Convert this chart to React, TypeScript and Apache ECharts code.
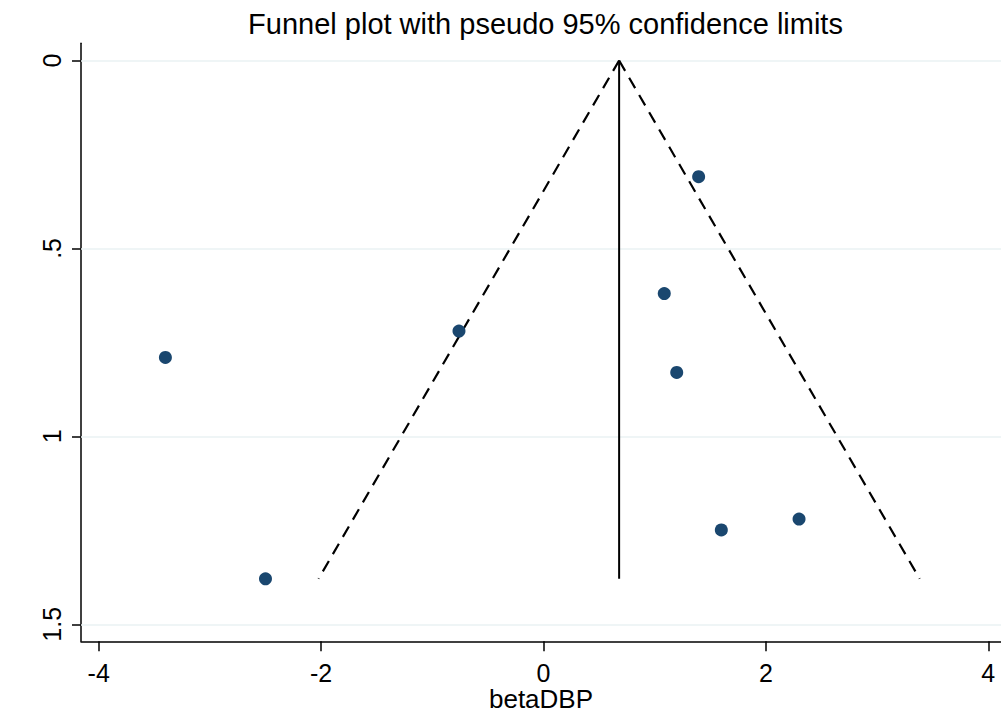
import React, { useEffect, useRef } from "react";
import * as echarts from "echarts";

// ---- Data ----
const effectValues = [-3.4, -2.5, -0.76, 1.086, 1.198, 1.395, 1.599, 2.298];
const seValues = [0.79, 1.379, 0.72, 0.62, 0.83, 0.309, 1.249, 1.22];
const pooledEstimate = 0.68;
const z95 = 1.96;
const xTickValues = [-4, -2, 0, 2, 4];
const yTickValues = [0, 0.5, 1, 1.5];
const yTickLabels = ["0", ".5", "1", "1.5"];
const titleText = "Funnel plot with pseudo 95% confidence limits";
const xAxisTitle = "betaDBP";

const FONT = '"Liberation Sans", Arial, Helvetica, sans-serif';

export default function App() {
  const ref = useRef<HTMLDivElement>(null);

  useEffect(() => {
    if (!ref.current) return;
    const chart = echarts.init(ref.current, undefined, { renderer: "svg" });
    const maxSe = Math.max(...seValues);
    const points = effectValues.map((x, i) => [x, seValues[i]]);

    const option: any = {
      animation: false,
      backgroundColor: "#ffffff",
      textStyle: { fontFamily: FONT },
      graphic: [
        {
          type: "text",
          x: 545.5,
          y: 23.5,
          style: {
            text: titleText,
            fontSize: 29,
            fontFamily: FONT,
            fill: "#000000",
            align: "center",
            verticalAlign: "middle",
          },
        },
      ],
      grid: {
        left: 81,
        right: 0,
        top: 43.3,
        bottom: 75.7,
        containLabel: false,
        outerBoundsMode: "none",
      },
      xAxis: {
        type: "value",
        min: -4.159,
        max: 4.114,
        name: xAxisTitle,
        nameLocation: "middle",
        nameGap: 45,
        nameMoveOverlap: false,
        nameTextStyle: { fontSize: 26, color: "#000", fontFamily: FONT },
        axisLine: { show: true, onZero: false, lineStyle: { color: "#000", width: 1.5 } },
        axisTick: {
          show: true,
          length: 10,
          customValues: xTickValues,
          lineStyle: { color: "#000", width: 1.5 },
        },
        axisLabel: {
          customValues: xTickValues,
          margin: 19,
          fontSize: 25,
          color: "#000",
          fontFamily: FONT,
          formatter: (v: number) => String(v),
        },
        splitLine: { show: false },
      },
      yAxis: {
        type: "value",
        inverse: true,
        min: -0.0458,
        max: 1.5453,
        axisLine: { show: true, onZero: false, lineStyle: { color: "#000", width: 1.5 } },
        axisTick: {
          show: true,
          length: 9,
          customValues: yTickValues,
          lineStyle: { color: "#000", width: 1.5 },
        },
        axisLabel: {
          customValues: yTickValues,
          rotate: 90,
          margin: 17,
          fontSize: 25,
          color: "#000",
          fontFamily: FONT,
          formatter: (v: number) => {
            const i = yTickValues.findIndex((t) => Math.abs(t - v) < 1e-9);
            return i >= 0 ? yTickLabels[i] : "";
          },
        },
        splitLine: { show: false },
      },
      series: [
        {
          name: "grid",
          type: "line",
          data: [],
          z: 1,
          silent: true,
          markLine: {
            silent: true,
            z: 1,
            symbol: "none",
            label: { show: false },
            lineStyle: { color: "#eaf2f3", width: 1.5, type: "solid" },
            data: yTickValues.map((v) => ({ yAxis: v })),
          },
        },
        {
          name: "pooled",
          type: "line",
          z: 3,
          showSymbol: false,
          silent: true,
          data: [
            [pooledEstimate, 0],
            [pooledEstimate, maxSe],
          ],
          lineStyle: { color: "#000", width: 2 },
        },
        {
          name: "lower",
          type: "line",
          z: 3,
          showSymbol: false,
          silent: true,
          data: [
            [pooledEstimate, 0],
            [pooledEstimate - z95 * maxSe, maxSe],
          ],
          lineStyle: { color: "#000", width: 2.2, type: [12, 7.95] },
        },
        {
          name: "upper",
          type: "line",
          z: 3,
          showSymbol: false,
          silent: true,
          data: [
            [pooledEstimate, 0],
            [pooledEstimate + z95 * maxSe, maxSe],
          ],
          lineStyle: { color: "#000", width: 2.2, type: [12, 7.95] },
        },
        {
          name: "studies",
          type: "scatter",
          z: 4,
          data: points,
          symbol: "circle",
          symbolSize: 13,
          itemStyle: { color: "#1a476f", borderWidth: 0, opacity: 1 },
        },
      ],
    };

    chart.setOption(option);
    return () => {
      chart.dispose();
    };
  }, []);

  return (
    <div
      ref={ref}
      style={{ position: "absolute", left: 0, top: 0, width: 1001, height: 717, background: "#fff" }}
    />
  );
}
